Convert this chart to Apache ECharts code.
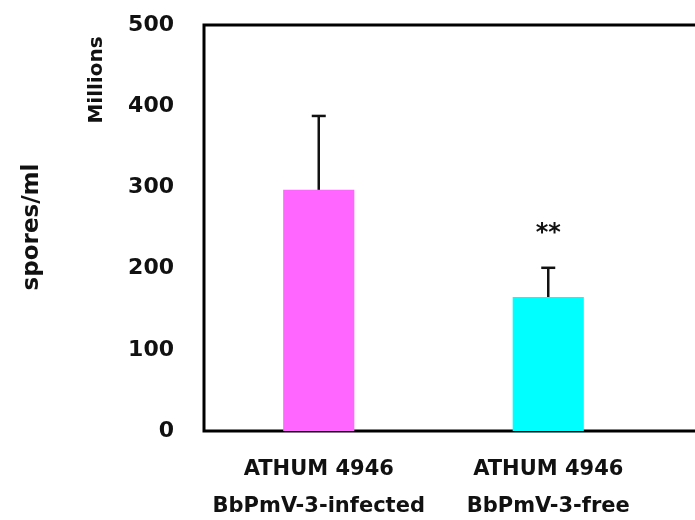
<!DOCTYPE html>
<html>
<head>
<meta charset="utf-8">
<script src="https://cdn.jsdelivr.net/npm/echarts@6/dist/echarts.min.js"></script>
<style>html,body{margin:0;padding:0;background:#fff}#c{width:695px;height:520px}</style>
</head>
<body>
<div id="c"></div>
<script>
var categories = ['ATHUM 4946\nBbPmV-3-infected', 'ATHUM 4946\nBbPmV-3-free'];
var meanValues = [297, 165];
var errorUpper = [388, 201];
var significance = ['', '**'];
var yTicks = [0, 100, 200, 300, 400, 500];
var barColors = ['#FF66FF', '#00FFFF'];

var chart = echarts.init(document.getElementById('c'), null, {renderer: 'canvas'});
var FONT = 'DejaVu Sans';

var option = {
  animation: false,
  backgroundColor: '#fff',
  grid: [
    {left: 204, top: 25, right: -40, height: 406, show: true, borderColor: '#000', borderWidth: 3, backgroundColor: 'transparent', outerBoundsMode: 'none', containLabel: false},
    {left: 204, top: 25, width: 459, height: 406, outerBoundsMode: 'none', containLabel: false}
  ],
  xAxis: [
    {gridIndex: 0, type: 'value', show: false, min: 0, max: 1},
    {gridIndex: 1, type: 'category', data: categories, boundaryGap: true,
     axisLine: {show: false}, axisTick: {show: false},
     axisLabel: {interval: 0, color: '#111', fontFamily: FONT, fontWeight: 'bold', fontSize: 21, lineHeight: 37, margin: 20}}
  ],
  yAxis: [
    {gridIndex: 0, type: 'value', show: false, min: 0, max: 500},
    {gridIndex: 1, type: 'value', min: yTicks[0], max: yTicks[yTicks.length - 1], interval: 100,
     axisLine: {show: false}, axisTick: {show: false}, splitLine: {show: false},
     axisLabel: {color: '#111', fontFamily: FONT, fontWeight: 'bold', fontSize: 22, margin: 30}}
  ],
  series: [
    {type: 'bar', xAxisIndex: 1, yAxisIndex: 1, barWidth: '31%',
     data: meanValues.map(function (v, i) { return {value: v, itemStyle: {color: barColors[i]}}; })},
    {type: 'custom', xAxisIndex: 1, yAxisIndex: 1, z: 5,
     data: meanValues.map(function (v, i) { return [i, v, errorUpper[i]]; }),
     renderItem: function (params, api) {
       var base = api.coord([api.value(0), api.value(1)]);
       var top = api.coord([api.value(0), api.value(2)]);
       var half = 7;
       return {type: 'group', children: [
         {type: 'line', shape: {x1: base[0], y1: base[1], x2: top[0], y2: top[1]}, style: {stroke: '#111', lineWidth: 2.5}},
         {type: 'line', shape: {x1: top[0] - half, y1: top[1], x2: top[0] + half, y2: top[1]}, style: {stroke: '#111', lineWidth: 2.5}}
       ]};
     }},
    {type: 'custom', xAxisIndex: 1, yAxisIndex: 1, z: 6,
     data: errorUpper.map(function (v, i) { return [i, v, significance[i]]; }),
     renderItem: function (params, api) {
       var i = params.dataIndex;
       if (!significance[i]) return null;
       var p = api.coord([api.value(0), api.value(1)]);
       return {type: 'text', x: p[0], y: p[1] - 34, style: {text: significance[i], fill: '#111', font: 'bold 24px ' + FONT, textAlign: 'center', textVerticalAlign: 'middle'}};
     }}
  ],
  graphic: [
    {type: 'text', x: 32, y: 227, rotation: Math.PI / 2, style: {text: 'spores/ml', fill: '#111', font: 'bold 23px ' + FONT, textAlign: 'center', textVerticalAlign: 'middle'}},
    {type: 'text', x: 97, y: 80, rotation: Math.PI / 2, style: {text: 'Millions', fill: '#111', font: 'bold 20px ' + FONT, textAlign: 'center', textVerticalAlign: 'middle'}}
  ]
};
chart.setOption(option);
</script>
</body>
</html>
